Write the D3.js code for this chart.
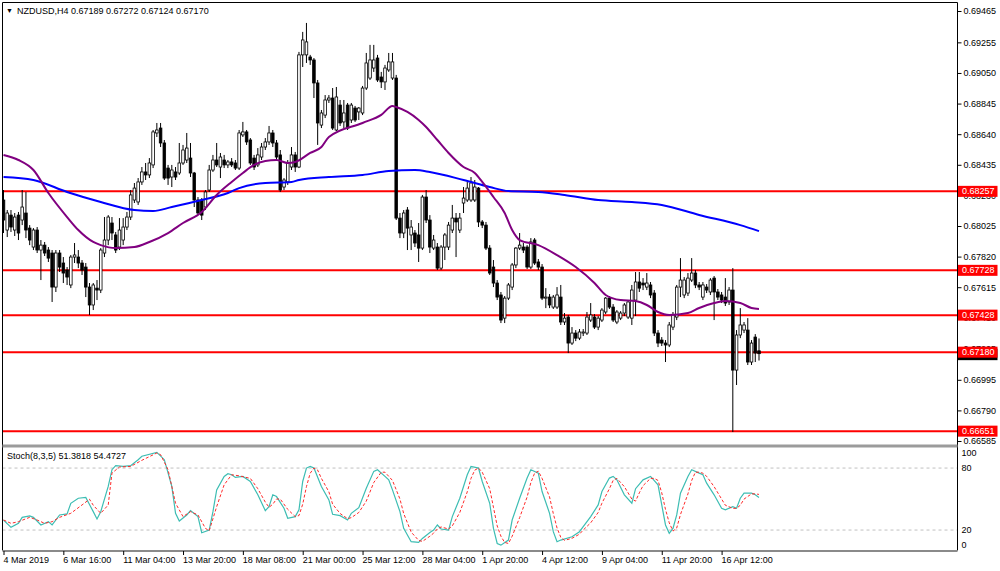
<!DOCTYPE html>
<html><head><meta charset="utf-8">
<script src="https://cdn.jsdelivr.net/npm/d3@7"></script>
<style>
body{margin:0;background:#fff}
svg{display:block}
text{font-family:"Liberation Sans",Arial,sans-serif;font-size:9px;fill:#000}
</style>
</head><body>
<svg id="c" width="1000" height="571"></svg>
<script>
// ---------- data ----------
const symbolTitle = "NZDUSD,H4";
const lastOHLC = ["0.67189", "0.67272", "0.67124", "0.67170"];
const priceTicks = [0.69465,0.69255,0.69050,0.68845,0.68640,0.68435,0.68230,0.68025,0.67820,0.67615,0.67410,0.67205,0.66995,0.66790,0.66585];
const timeTickBars = [0,16,32,48,64,80,96,112,128,144,160,176,192];
const timeTickLabels = ["4 Mar 2019","6 Mar 16:00","11 Mar 04:00","13 Mar 20:00","18 Mar 08:00","21 Mar 00:00","25 Mar 12:00","28 Mar 04:00","1 Apr 20:00","4 Apr 12:00","9 Apr 04:00","11 Apr 20:00","16 Apr 12:00"];
const levels = [0.68257,0.67728,0.67428,0.67180,0.66651];
const bidPrice = 0.67170;
// [open, high, low, close]
const candles = [
[0.68199,0.68266,0.67978,0.68065],[0.67998,0.68132,0.67951,0.68112],[0.68098,0.68132,0.67985,0.68018],[0.67998,0.68112,0.67958,0.68085],
[0.68098,0.68119,0.67931,0.67978],[0.68065,0.68266,0.68031,0.68152],[0.68112,0.68253,0.67944,0.67998],[0.68011,0.68031,0.67897,0.67931],
[0.67884,0.68011,0.67864,0.67998],[0.67998,0.68018,0.67844,0.67864],[0.67864,0.67931,0.67663,0.67897],[0.67897,0.67918,0.67824,0.67844],
[0.67864,0.67884,0.67784,0.67810],[0.67844,0.67864,0.67516,0.67616],[0.67616,0.67864,0.67583,0.67844],[0.67844,0.67864,0.67717,0.67750],
[0.67777,0.67817,0.67643,0.67710],[0.67730,0.67750,0.67630,0.67683],[0.67630,0.67831,0.67609,0.67817],[0.67817,0.67911,0.67777,0.67831],
[0.67817,0.67864,0.67743,0.67777],[0.67777,0.67797,0.67697,0.67730],[0.67750,0.67777,0.67549,0.67616],[0.67616,0.67643,0.67429,0.67496],
[0.67496,0.67643,0.67462,0.67630],[0.67609,0.67663,0.67529,0.67596],[0.67596,0.67877,0.67576,0.67864],[0.67844,0.68085,0.67817,0.67931],
[0.67931,0.68098,0.67897,0.68085],[0.68045,0.68085,0.67931,0.67978],[0.67965,0.67985,0.67844,0.67864],[0.67884,0.68078,0.67864,0.67998],
[0.67931,0.68078,0.67897,0.68018],[0.68018,0.68119,0.67998,0.68085],[0.68085,0.68266,0.68065,0.68233],[0.68199,0.68313,0.68179,0.68279],
[0.68186,0.68346,0.68166,0.68320],[0.68320,0.68420,0.68300,0.68387],[0.68387,0.68447,0.68333,0.68367],[0.68367,0.68480,0.68346,0.68447],
[0.68434,0.68668,0.68413,0.68655],[0.68648,0.68715,0.68621,0.68668],[0.68681,0.68715,0.68554,0.68581],[0.68581,0.68601,0.68333,0.68346],
[0.68413,0.68434,0.68300,0.68346],[0.68353,0.68434,0.68286,0.68400],[0.68387,0.68420,0.68333,0.68353],[0.68380,0.68581,0.68367,0.68447],
[0.68447,0.68568,0.68434,0.68534],[0.68467,0.68648,0.68447,0.68547],[0.68480,0.68581,0.68353,0.68380],[0.68380,0.68387,0.68152,0.68199],
[0.68199,0.68219,0.68098,0.68112],[0.68199,0.68212,0.68065,0.68098],[0.68152,0.68266,0.68132,0.68253],[0.68266,0.68434,0.68253,0.68400],
[0.68400,0.68501,0.68387,0.68467],[0.68467,0.68581,0.68420,0.68434],[0.68420,0.68514,0.68346,0.68487],[0.68467,0.68501,0.68413,0.68434],
[0.68434,0.68467,0.68413,0.68454],[0.68454,0.68480,0.68420,0.68434],[0.68447,0.68467,0.68400,0.68413],[0.68413,0.68668,0.68400,0.68648],
[0.68635,0.68722,0.68621,0.68655],[0.68655,0.68668,0.68568,0.68588],[0.68601,0.68614,0.68434,0.68447],[0.68480,0.68501,0.68400,0.68420],
[0.68434,0.68547,0.68420,0.68501],[0.68487,0.68581,0.68467,0.68554],[0.68554,0.68614,0.68534,0.68588],[0.68588,0.68695,0.68568,0.68648],
[0.68648,0.68668,0.68554,0.68581],[0.68581,0.68601,0.68467,0.68487],[0.68501,0.68534,0.68253,0.68266],[0.68286,0.68346,0.68266,0.68333],
[0.68320,0.68467,0.68300,0.68447],[0.68420,0.68554,0.68400,0.68501],[0.68501,0.68521,0.68387,0.68420],[0.68420,0.69191,0.68413,0.69171],
[0.69171,0.69325,0.69090,0.69271],[0.69171,0.69385,0.69117,0.69258],[0.69157,0.69171,0.69104,0.69137],[0.69137,0.69150,0.68882,0.68983],
[0.68983,0.69003,0.68568,0.68715],[0.68701,0.68802,0.68681,0.68782],[0.68768,0.68902,0.68748,0.68869],[0.68869,0.68902,0.68849,0.68882],
[0.68882,0.68949,0.68668,0.68681],[0.68668,0.68956,0.68661,0.68889],[0.68835,0.68869,0.68695,0.68715],[0.68722,0.68869,0.68681,0.68782],
[0.68835,0.68849,0.68668,0.68681],[0.68735,0.68849,0.68715,0.68835],[0.68815,0.68829,0.68722,0.68735],[0.68789,0.68822,0.68735,0.68815],
[0.68782,0.68963,0.68768,0.68949],[0.68949,0.69184,0.68936,0.69117],[0.69016,0.69238,0.69003,0.69137],[0.69083,0.69238,0.69057,0.69137],
[0.69150,0.69171,0.68990,0.69003],[0.69023,0.69057,0.68949,0.68990],[0.68990,0.69104,0.68936,0.69083],[0.69070,0.69184,0.69057,0.69124],
[0.69016,0.69184,0.69003,0.69124],[0.69016,0.69037,0.68065,0.68078],[0.68078,0.68112,0.67944,0.67978],[0.67978,0.68132,0.67944,0.68112],
[0.68132,0.68152,0.67864,0.68011],[0.67965,0.68065,0.67864,0.68018],[0.67978,0.67998,0.67884,0.67911],[0.67965,0.68045,0.67784,0.67877],
[0.67877,0.68233,0.67864,0.68219],[0.68219,0.68266,0.68045,0.68065],[0.68065,0.68098,0.67844,0.67884],[0.67877,0.67965,0.67864,0.67931],
[0.67884,0.67911,0.67730,0.67743],[0.67743,0.67897,0.67730,0.67884],[0.67884,0.67978,0.67797,0.67965],[0.67884,0.68052,0.67864,0.68031],
[0.67998,0.68166,0.67978,0.68078],[0.68078,0.68112,0.67817,0.68052],[0.67998,0.68112,0.67978,0.68078],[0.68179,0.68286,0.68112,0.68212],
[0.68199,0.68320,0.68186,0.68279],[0.68199,0.68353,0.68186,0.68313],[0.68199,0.68333,0.68186,0.68286],[0.68279,0.68286,0.68018,0.68052],
[0.68052,0.68065,0.68011,0.68031],[0.68031,0.68052,0.67864,0.67877],[0.67877,0.67897,0.67697,0.67710],[0.67750,0.67797,0.67616,0.67643],
[0.67643,0.67663,0.67529,0.67549],[0.67563,0.67583,0.67375,0.67395],[0.67408,0.67556,0.67375,0.67542],[0.67542,0.67643,0.67529,0.67630],
[0.67616,0.67777,0.67596,0.67764],[0.67764,0.67884,0.67743,0.67877],[0.67877,0.67978,0.67864,0.67897],[0.67884,0.67911,0.67844,0.67864],
[0.67884,0.67897,0.67737,0.67750],[0.67750,0.67944,0.67737,0.67918],[0.67931,0.67944,0.67764,0.67777],[0.67784,0.67804,0.67730,0.67750],
[0.67750,0.67770,0.67529,0.67542],[0.67542,0.67609,0.67475,0.67549],[0.67549,0.67569,0.67475,0.67496],[0.67482,0.67563,0.67469,0.67549],
[0.67482,0.67616,0.67469,0.67563],[0.67549,0.67630,0.67362,0.67382],[0.67382,0.67442,0.67362,0.67408],[0.67415,0.67429,0.67174,0.67241],
[0.67241,0.67348,0.67228,0.67308],[0.67308,0.67328,0.67254,0.67274],[0.67274,0.67335,0.67261,0.67315],[0.67308,0.67335,0.67288,0.67315],
[0.67308,0.67449,0.67295,0.67415],[0.67395,0.67509,0.67382,0.67429],[0.67415,0.67435,0.67335,0.67348],[0.67348,0.67422,0.67328,0.67408],
[0.67395,0.67475,0.67382,0.67462],[0.67449,0.67549,0.67435,0.67542],[0.67542,0.67556,0.67469,0.67482],[0.67482,0.67502,0.67382,0.67395],
[0.67382,0.67462,0.67368,0.67449],[0.67408,0.67455,0.67395,0.67442],[0.67442,0.67509,0.67422,0.67496],[0.67415,0.67529,0.67402,0.67516],
[0.67408,0.67630,0.67362,0.67596],[0.67529,0.67717,0.67422,0.67650],[0.67650,0.67717,0.67583,0.67609],[0.67643,0.67676,0.67596,0.67630],
[0.67616,0.67710,0.67596,0.67643],[0.67630,0.67650,0.67542,0.67563],[0.67576,0.67596,0.67288,0.67308],[0.67308,0.67328,0.67214,0.67241],
[0.67261,0.67281,0.67221,0.67241],[0.67241,0.67261,0.67114,0.67228],[0.67228,0.67382,0.67214,0.67362],[0.67348,0.67449,0.67328,0.67429],
[0.67415,0.67630,0.67395,0.67616],[0.67616,0.67810,0.67549,0.67663],[0.67563,0.67683,0.67542,0.67663],[0.67576,0.67710,0.67556,0.67676],
[0.67663,0.67810,0.67650,0.67710],[0.67710,0.67730,0.67609,0.67630],[0.67630,0.67650,0.67596,0.67616],[0.67549,0.67650,0.67529,0.67630],
[0.67616,0.67636,0.67576,0.67596],[0.67583,0.67676,0.67563,0.67663],[0.67676,0.67690,0.67395,0.67583],[0.67583,0.67603,0.67529,0.67549],
[0.67563,0.67583,0.67509,0.67529],[0.67549,0.67676,0.67489,0.67509],[0.67516,0.67616,0.67496,0.67596],[0.67596,0.67743,0.66645,0.67060],
[0.67060,0.67328,0.66960,0.67295],[0.67295,0.67475,0.67274,0.67362],[0.67328,0.67382,0.67308,0.67362],[0.67328,0.67408,0.67094,0.67114],
[0.67114,0.67261,0.67094,0.67241],[0.67281,0.67301,0.67114,0.67174],[0.67189,0.67272,0.67124,0.67170]
];
const maBlueBars = [0,8,17,26,35,40,45,53,60,63,70,77,79,87,96,103,110,114,123,130,135,143,150,159,168,176,186,197,202];
const maBlueVals = [0.68353,0.68333,0.68253,0.68186,0.68132,0.68125,0.68152,0.68199,0.68246,0.68279,0.68313,0.68320,0.68333,0.68353,0.68367,0.68393,0.68400,0.68387,0.68333,0.68286,0.68259,0.68253,0.68233,0.68199,0.68186,0.68166,0.68099,0.68031,0.67991];
const maPurpleBars = [0,4,8,12,17,20,24,26,30,35,39,44,48,53,57,61,64,67,70,73,76,78,82,85,87,96,101,104,105,108,111,113,116,119,123,126,128,131,134,136,138,143,148,153,158,161,165,169,172,175,178,183,186,190,193,197,200,202];
const maPurpleVals = [0.68500,0.68467,0.68400,0.68246,0.68085,0.67998,0.67918,0.67897,0.67877,0.67884,0.67918,0.67978,0.68045,0.68119,0.68233,0.68320,0.68380,0.68434,0.68460,0.68467,0.68447,0.68454,0.68514,0.68554,0.68621,0.68715,0.68769,0.68829,0.68822,0.68789,0.68735,0.68688,0.68601,0.68514,0.68420,0.68380,0.68320,0.68219,0.68112,0.67998,0.67931,0.67897,0.67830,0.67750,0.67643,0.67563,0.67529,0.67522,0.67496,0.67449,0.67429,0.67442,0.67476,0.67509,0.67522,0.67509,0.67476,0.67469];
const stochLabel = "Stoch(8,3,5) 51.3818 54.4727";
const stochLevels = [80, 20];
const stochAxisVals = [100, 80, 20, 0];
const stochMainBars = [0,2,4,5,7,8,10,12,13,15,17,18,20,22,24,25,26,28,29,30,32,34,36,37,41,43,45,46,47,49,50,52,53,55,56,57,59,60,61,62,64,66,68,70,71,72,73,75,76,78,79,80,81,82,83,85,87,88,90,92,93,95,97,99,100,102,103,104,106,107,109,111,112,114,115,116,117,119,120,122,124,125,127,128,130,131,132,133,135,136,138,140,141,143,144,146,147,148,149,152,154,155,157,159,160,162,163,164,166,168,169,171,173,175,176,177,178,179,180,181,183,184,186,187,188,190,192,193,195,196,197,198,200,201,202];
const stochMainVals = [29.7,22.6,26.5,32.3,33.6,32.3,24.9,28.1,24.9,34.6,35.6,45.9,50.8,51.5,37.8,30.7,37.8,62.2,78.4,82.3,81.6,82.3,88.1,91.4,95.2,88.1,62.2,36.2,28.8,34.6,38.8,33,17.4,20,37.8,58.9,71.9,74.5,73.5,70.9,71.9,67,54.1,38.8,42.7,54.1,52.4,41.1,31.4,33,39.5,67,80,81.6,80,62.2,49.2,35.2,33.9,29.7,36.2,41.7,60.5,76.8,78.4,71.9,68.6,58.9,37.8,21.6,8.7,8,11.9,17.7,20,24.9,21,20,33,50.8,73.5,81.6,80,67,45.9,21.6,7,5.4,10.3,29.7,50.8,70.3,78.4,75.1,57.3,36.2,18.4,8.7,10.3,13.5,18.4,23.3,33,44.3,57.3,70.3,71.9,68.6,54.1,46,60,68.6,71.9,63.8,44.3,24.9,16.8,21.6,34.6,55.7,71.9,78.4,75.1,73.5,65.4,54.1,41.1,39.5,42.7,41.1,50.8,55.7,55.7,54.1,51.4];
const stochSignalBars = [0,2,4,7,9,11,13,15,18,21,23,24,26,28,29,31,34,37,41,42,44,46,48,50,52,54,55,57,59,61,63,66,68,70,71,72,73,74,76,78,79,80,81,82,83,84,85,87,88,90,92,93,95,97,99,101,102,103,104,106,107,109,111,112,114,115,116,117,119,120,122,124,125,126,127,128,130,131,132,133,134,135,136,138,140,141,142,143,144,146,147,148,149,150,152,154,155,157,159,160,162,163,164,166,168,169,170,171,173,174,175,176,177,178,179,180,181,183,184,185,186,187,188,190,192,193,195,196,197,198,200,201,202];
const stochSignalVals = [29.7,26.5,28.1,32.3,29.7,26.5,28.1,32.3,36.2,44.3,49.8,44,36.2,44.3,75.1,81,81.6,87.5,94.6,93,78.4,45.9,33,37.8,34.6,21.6,19.3,42.7,63.8,73.5,72.5,70,60,47,42,45,50,50,40,33,34,45,62,75,80,78,70,57,45,36,31,32,37,48,66,76,76,72,68,50,36,18,10,9,14,17,21,23,21,24,37,57,70,78,80,76,60,42,24,14,8,7,14,32,52,66,75,77,70,52,36,22,13,10,12,16,20,27,37,46,60,68,70,62,50,48,56,63,70,70,68,56,40,27,19,22,35,55,68,76,76,75,72,62,50,44,41,41,44,50,55,55,54.5];

// ---------- layout ----------
const W = 1000, H = 571;
const plotL = 2.5, plotR = 957.5;
const mainT = 2.5, mainB = 445.5;
const stT = 447.5, stB = 550.5;

const svg = d3.select("#c");
svg.append("rect").attr("width", W).attr("height", H).attr("fill", "#fff");

const x = d3.scaleLinear().domain([0, candles.length - 1]).range([3.5, 759]);
const y = d3.scaleLinear().domain([0.66585, 0.69465]).range([441, 11]);
const ys = d3.scaleLinear().domain([0, 100]).range([550.7, 447.4]);

// panel frames
const frame = svg.append("g");
frame.append("line").attr("x1", plotL).attr("x2", plotR).attr("y1", mainT).attr("y2", mainT).attr("stroke", "#000");
frame.append("line").attr("x1", plotL).attr("x2", plotL).attr("y1", mainT).attr("y2", stB).attr("stroke", "#000");
frame.append("line").attr("x1", plotR).attr("x2", plotR).attr("y1", mainT).attr("y2", stB).attr("stroke", "#000");
frame.append("rect").attr("x", plotL).attr("y", mainB - 1).attr("width", plotR - plotL).attr("height", 3).attr("fill", "#9b9b9b");
frame.append("rect").attr("x", plotL).attr("y", stB - 0.5).attr("width", plotR - plotL).attr("height", 2).attr("fill", "#8a8a8a");

// clip for main panel
svg.append("clipPath").attr("id", "mainClip").append("rect")
  .attr("x", plotL + 0.5).attr("y", mainT + 0.5).attr("width", plotR - plotL - 1).attr("height", mainB - mainT - 2);
svg.append("clipPath").attr("id", "stClip").append("rect")
  .attr("x", plotL + 0.5).attr("y", stT).attr("width", plotR - plotL - 1).attr("height", stB - stT - 0.5);

const main = svg.append("g").attr("clip-path", "url(#mainClip)");

// horizontal level lines
main.selectAll("line.lvl").data(levels).join("line").attr("class", "lvl")
  .attr("x1", plotL).attr("x2", plotR)
  .attr("y1", d => y(d)).attr("y2", d => y(d))
  .attr("stroke", "#ff0000").attr("stroke-width", 2);

// candles
const bw = 2.6;
const cg = main.append("g");
cg.selectAll("line.wick").data(candles).join("line").attr("class", "wick")
  .attr("x1", (d, i) => x(i)).attr("x2", (d, i) => x(i))
  .attr("y1", d => y(d[1])).attr("y2", d => y(d[2]))
  .attr("stroke", "#000").attr("stroke-width", 1);
cg.selectAll("rect.body").data(candles).join("rect").attr("class", "body")
  .attr("x", (d, i) => x(i) - bw / 2)
  .attr("width", bw)
  .attr("y", d => y(Math.max(d[0], d[3])))
  .attr("height", d => Math.max(0.8, Math.abs(y(d[0]) - y(d[3]))))
  .attr("fill", d => d[3] >= d[0] ? "#ffffff" : "#000000")
  .attr("stroke", "#000").attr("stroke-width", 0.8);

// moving averages
const maLine = d3.line().x(d => x(d[0])).y(d => y(d[1])).curve(d3.curveMonotoneX);
main.append("path").datum(maBlueBars.map((b, i) => [b, maBlueVals[i]]))
  .attr("d", maLine).attr("fill", "none").attr("stroke", "#0000ff").attr("stroke-width", 2);
main.append("path").datum(maPurpleBars.map((b, i) => [b, maPurpleVals[i]]))
  .attr("d", maLine).attr("fill", "none").attr("stroke", "#800080").attr("stroke-width", 2);

// price axis
const pAxis = svg.append("g").attr("transform", `translate(${plotR},0)`)
  .call(d3.axisRight(y).tickValues(priceTicks).tickSize(4).tickPadding(2).tickFormat(d3.format(".5f")));
pAxis.select(".domain").remove();
pAxis.selectAll("line").attr("stroke", "#000");
pAxis.selectAll("text").attr("font-size", 9).attr("font-family", "Liberation Sans, Arial, sans-serif").attr("fill", "#000");

// bid marker (behind level labels)
svg.append("rect").attr("x", plotR + 0.5).attr("y", y(bidPrice) - 5).attr("width", 39.5).attr("height", 11.5).attr("fill", "#000");

// level labels
const lg = svg.append("g");
lg.selectAll("rect").data(levels).join("rect")
  .attr("x", plotR + 0.5).attr("y", d => y(d) - 5.5).attr("width", 39.5).attr("height", 11).attr("fill", "#ff0000");
lg.selectAll("text").data(levels).join("text")
  .attr("x", plotR + 4.5).attr("y", d => y(d)).attr("dy", "0.34em")
  .style("fill", "#fff").text(d => d3.format(".5f")(d));

// header
svg.append("text").attr("x", 6).attr("y", 13).style("font-size", "7px").text("\u25BC");
svg.append("text").attr("x", 17).attr("y", 13.5).text(symbolTitle + "  " + lastOHLC.join(" "));

// ---------- stochastic ----------
const st = svg.append("g").attr("clip-path", "url(#stClip)");
st.selectAll("line.sl").data(stochLevels).join("line").attr("class", "sl")
  .attr("x1", plotL).attr("x2", plotR).attr("y1", d => ys(d)).attr("y2", d => ys(d))
  .attr("stroke", "#c0c0c0").attr("stroke-dasharray", "3,3").attr("stroke-width", 1);
const sLine = d3.line().x(d => x(d[0])).y(d => ys(d[1]));
st.append("path").datum(stochMainBars.map((b, i) => [b, stochMainVals[i]]))
  .attr("d", sLine).attr("fill", "none").attr("stroke", "#3dbdb3").attr("stroke-width", 1.2);
st.append("path").datum(stochSignalBars.map((b, i) => [b, stochSignalVals[i]]))
  .attr("d", sLine).attr("fill", "none").attr("stroke", "#ff2a2a").attr("stroke-width", 1).attr("stroke-dasharray", "3,2");
svg.append("text").attr("x", 7).attr("y", 459).text(stochLabel);

const stOffsets = {100: 5.5, 80: 0, 20: 0, 0: -5.5};
svg.append("g").selectAll("text").data(stochAxisVals).join("text")
  .attr("x", plotR + 4).attr("y", d => ys(d) + stOffsets[d]).attr("dy", "0.34em").text(d => d);

// ---------- time axis ----------
const tAxis = svg.append("g").attr("transform", `translate(0,${stB + 0.5})`)
  .call(d3.axisBottom(x).tickValues(timeTickBars).tickSize(4).tickFormat((d, i) => timeTickLabels[i]));
tAxis.select(".domain").remove();
tAxis.selectAll("line").attr("stroke", "#000");
tAxis.selectAll("text").attr("text-anchor", "start").attr("x", -0.5).attr("y", 6)
  .attr("font-size", 9).attr("font-family", "Liberation Sans, Arial, sans-serif").attr("fill", "#000");
</script>
</body></html>
